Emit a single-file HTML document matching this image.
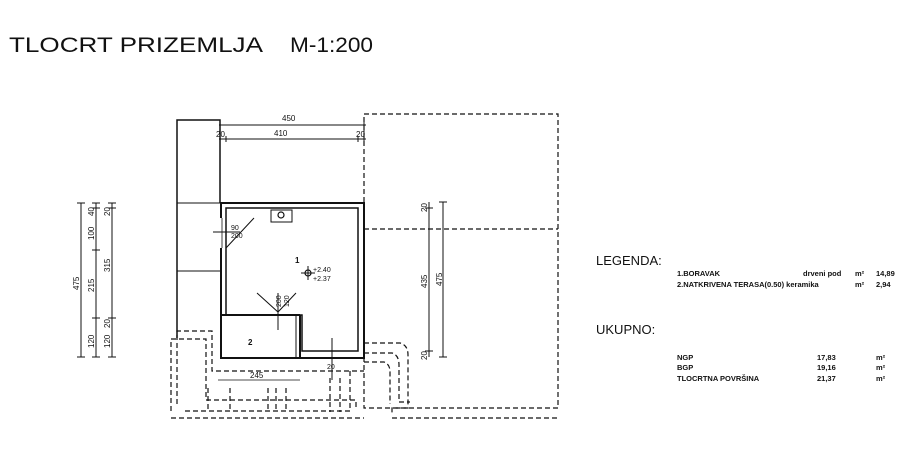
<!DOCTYPE html>
<html><head><meta charset="utf-8"><style>
body{margin:0;background:#fff;width:919px;height:476px;overflow:hidden}
svg{display:block}
text{font-family:"Liberation Sans",Arial,sans-serif;fill:#111}
</style></head><body>
<svg width="919" height="476" viewBox="0 0 919 476" xmlns="http://www.w3.org/2000/svg">
<text x="9" y="52" font-size="21" textLength="254" lengthAdjust="spacingAndGlyphs">TLOCRT PRIZEMLJA</text>
<text x="290" y="52" font-size="21" textLength="83" lengthAdjust="spacingAndGlyphs">M-1:200</text>

<g stroke="#111" fill="none" stroke-width="1">
<path d="M177 338 V120 H220 V203" stroke-width="1.5"/>
<line x1="177" y1="203" x2="220" y2="203"/>
<line x1="177" y1="271" x2="220" y2="271"/>
<line x1="219" y1="125" x2="366" y2="125"/>
<line x1="219" y1="139" x2="366" y2="139"/>
<line x1="220" y1="121" x2="220" y2="143"/><line x1="364" y1="121" x2="364" y2="143"/>
<line x1="226" y1="136" x2="226" y2="142"/><line x1="358" y1="136" x2="358" y2="142"/>
</g>
<g stroke="#111" fill="none" stroke-width="1.2" stroke-dasharray="5,3">
<rect x="364" y="114" width="194" height="294"/>
<line x1="364" y1="229" x2="558" y2="229"/>
<path d="M171 411 V339 H206 V400 H356 V410"/>
<path d="M177 404 V331 H212 V371 H364"/>
<path d="M185 411 H350 V369"/>
<path d="M208 388 V412 M230 388 V412 M268 388 V412 M276 388 V412 M286 388 V412 M330 378 V412 M340 378 V412"/>
<path d="M364 343 H400 Q408 345 408 355 V408 H392 V414"/>
<path d="M364 353 H392 Q399 355 399 365 V402 H410"/>
<path d="M364 362 H384 Q390 364 390 372 V404"/>
<path d="M171 418 H364 M392 418 H558"/>
</g>
<g stroke="#111" fill="none">
<path d="M221 203 H364 V358 H221 Z" stroke-width="2"/>
<path d="M226 208 H358 V351 H302 V315 H226 Z" stroke-width="1.5"/>
<line x1="221" y1="315" x2="300" y2="315" stroke-width="2"/>
<line x1="300" y1="315" x2="300" y2="358" stroke-width="2"/>
<line x1="296" y1="315" x2="296" y2="358" stroke-width="1"/>
<line x1="221" y1="218" x2="221" y2="248" stroke="#fff" stroke-width="3"/>
<line x1="222" y1="218" x2="222" y2="248" stroke-width="0.8"/>
<rect x="271" y="210" width="21" height="12" stroke-width="1"/>
<circle cx="281" cy="215" r="3" stroke-width="1.2"/>
<path d="M213 232 H240 M254 218 L226 248" stroke-width="1"/>
<path d="M257 293 L278 312 L296 293 M278 293 V330" stroke-width="1"/>
<path d="M332 338 V380" stroke-width="1"/>
<circle cx="308" cy="273" r="3" stroke-width="1.2"/>
<line x1="308" y1="266" x2="308" y2="280"/><line x1="301" y1="273" x2="315" y2="273"/>
<line x1="218" y1="380" x2="300" y2="380" stroke-width="0.8"/>
<line x1="429" y1="202" x2="429" y2="357"/>
<line x1="443" y1="202" x2="443" y2="357"/>
<line x1="425" y1="208" x2="433" y2="208"/><line x1="425" y1="351" x2="433" y2="351"/>
<line x1="439" y1="202" x2="447" y2="202"/><line x1="439" y1="357" x2="447" y2="357"/>
<line x1="81" y1="203" x2="81" y2="357"/>
<line x1="96" y1="203" x2="96" y2="357"/>
<line x1="112" y1="203" x2="112" y2="357"/>
<path d="M77 203 H85 M77 357 H85 M92 203 H100 M92 208 H100 M92 250 H100 M92 318 H100 M92 357 H100 M108 203 H116 M108 208 H116 M108 318 H116 M108 357 H116"/>
</g>
<g font-size="8">
<text x="282" y="121">450</text>
<text x="274" y="136">410</text>
<text x="216" y="137">20</text><text x="356" y="137">20</text>
<text x="231" y="230" font-size="7">90</text><text x="231" y="238" font-size="7">200</text>
<text x="295" y="263" font-weight="bold">1</text>
<text x="313" y="272" font-size="7">+2.40</text><text x="313" y="281" font-size="7">+2.37</text>
<text x="248" y="345" font-weight="bold">2</text>
<text x="250" y="378">245</text>
<text x="327" y="369" font-size="7">20</text>
<text transform="translate(289,307) rotate(-90)" font-size="7">120</text>
<text transform="translate(281,307) rotate(-90)" font-size="7">200</text>
<text transform="translate(427,212) rotate(-90)">20</text>
<text transform="translate(427,288) rotate(-90)">435</text>
<text transform="translate(427,360) rotate(-90)">20</text>
<text transform="translate(442,286) rotate(-90)">475</text>
<text transform="translate(79,290) rotate(-90)">475</text>
<text transform="translate(94,216) rotate(-90)">40</text>
<text transform="translate(94,240) rotate(-90)">100</text>
<text transform="translate(94,292) rotate(-90)">215</text>
<text transform="translate(94,348) rotate(-90)">120</text>
<text transform="translate(110,216) rotate(-90)">20</text>
<text transform="translate(110,272) rotate(-90)">315</text>
<text transform="translate(110,328) rotate(-90)">20</text>
<text transform="translate(110,348) rotate(-90)">120</text>
</g>

<text x="596" y="265" font-size="13">LEGENDA:</text>
<g font-size="7.5" font-weight="bold">
<text x="677" y="276">1.BORAVAK</text>
<text x="803" y="276">drveni pod</text><text x="855" y="276">m²</text><text x="876" y="276">14,89</text>
<text x="677" y="287">2.NATKRIVENA TERASA(0.50) keramika</text>
<text x="855" y="287">m²</text><text x="876" y="287">2,94</text>
<text x="677" y="360">NGP</text><text x="817" y="360">17,83</text><text x="876" y="360">m²</text>
<text x="677" y="370">BGP</text><text x="817" y="370">19,16</text><text x="876" y="370">m²</text>
<text x="677" y="381">TLOCRTNA POVRŠINA</text><text x="817" y="381">21,37</text><text x="876" y="381">m²</text>
</g>
<text x="596" y="334" font-size="13">UKUPNO:</text>
</svg>
</body></html>
